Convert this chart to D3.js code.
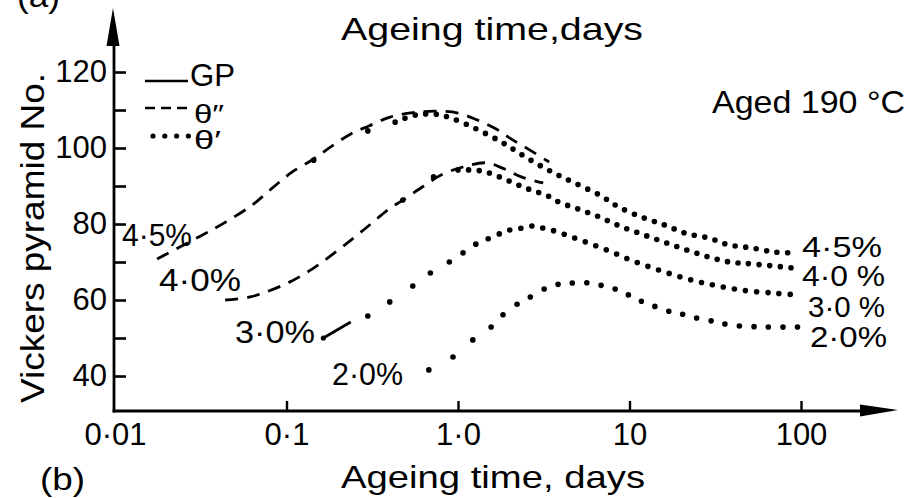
<!DOCTYPE html>
<html><head><meta charset="utf-8">
<script src="https://cdn.jsdelivr.net/npm/d3@7"></script>
<style>
html,body{margin:0;padding:0;background:#fff;overflow:hidden}
svg{display:block;background:#fff}
text{font-family:"Liberation Sans",Arial,sans-serif;fill:#000}
</style>
</head><body>
<svg id="c" width="911" height="498"></svg>
<script>
// ---------- data (ageing time in days, Vickers hardness) ----------
const alloys = ["4·5%", "4·0%", "3·0%", "2·0%"];
const xTicks = [0.01, 0.1, 1, 10, 100];
const xLabels = ["0·01", "0·1", "1·0", "10", "100"];
const yTicks = [40, 50, 60, 70, 80, 90, 100, 110, 120];
const yLabels = ["40", "", "60", "", "80", "", "100", "", "120"];
const legendLabels = ["GP", "θ″", "θ′"];

// theta'' (dashed) segments
const dd45 = [[0.0176,70.8],[0.0314,76.8],[0.0434,80.3],[0.0632,85.0],[0.0828,89.5],[0.108,93.7],[0.144,97.1],[0.181,100.3],[0.237,103.7],[0.302,105.8],[0.406,108.2],[0.546,109.3],[0.743,109.7],[1.0,109.2],[1.29,107.4],[1.67,105.0],[2.04,102.4],[2.57,99.7],[3.40,96.3]];
const dd40 = [[0.0439,60.0],[0.0615,60.8],[0.0986,64.2],[0.135,67.6],[0.183,71.8],[0.246,76.3],[0.310,80.0],[0.395,83.9],[0.477,86.3],[0.632,90.0],[0.796,92.9],[1.07,95.0],[1.46,96.1],[1.86,94.5],[2.34,92.4],[3.14,90.8]];

// GP (solid) segment
const gp30 = [[0.164,50.0],[0.237,54.2]];

// theta' sparse measured dots on the rising side
const pt45 = [[0.144,96.8],[0.298,104.5]];
const pt40 = [[0.477,86.3],[0.72,92.4]];
const pt30 = [[0.298,55.8],[0.40,59.5],[0.545,63.7],[0.69,67.1],[0.89,70.0],[1.07,72.4],[1.27,74.7],[1.50,76.1]];
const pt20 = [[0.676,41.6],[0.935,45.0],[1.22,49.5],[1.56,52.9],[1.83,56.1],[2.21,58.9],[2.64,60.8]];

// theta' (dotted) curves
const dt45 = [[0.43,106.8],[0.57,108.7],[0.74,108.9],[0.91,107.9],[1.24,105.3],[1.71,102.1],[2.13,99.5],[2.77,96.3],[3.64,93.4],[4.78,90.8],[6.71,87.6],[8.64,84.5],[12.1,81.6],[16.1,79.7],[21.1,77.6],[29.0,76.3],[38.0,74.5],[51.6,73.7],[70.5,72.6],[94.8,72.4]];
const dt40 = [[1.0,94.2],[1.23,94.2],[1.46,93.7],[1.74,92.4],[2.04,91.1],[2.40,89.7],[2.77,88.7],[3.27,87.6],[3.86,85.8],[5.05,83.9],[6.71,81.8],[8.73,79.5],[11.7,77.4],[15.8,75.3],[21.5,73.2],[29.0,71.3],[38.3,70.0],[51.6,69.5],[92.3,68.4]];
const dt30 = [[1.74,77.4],[2.0,78.4],[2.34,78.9],[2.75,79.5],[3.14,78.9],[3.64,78.2],[4.6,76.6],[6.0,74.7],[7.9,72.6],[10.2,70.5],[13.7,68.4],[18.2,66.6],[24.1,65.0],[31.1,63.9],[45.0,62.6],[70.5,61.8],[96.4,61.3]];
const dt20 = [[3.18,62.9],[3.90,64.2],[4.71,64.5],[5.76,64.5],[7.05,63.7],[8.63,62.6],[10.4,60.8],[12.4,59.2],[15.0,57.9],[18.3,56.6],[21.2,56.1],[26.0,55.0],[32.7,54.2],[38.5,53.4],[63.2,52.9],[101,52.9]];

// ---------- drawing ----------
const svg = d3.select("#c");
const W = 911, H = 498;
svg.append("rect").attr("width", W).attr("height", H).attr("fill", "#fff");

const x = d3.scaleLog().domain([0.01, 100]).range([115, 801]);
const y = d3.scaleLinear().domain([40, 120]).range([376, 72]);
const axisY = y(30) - 3;
const axisX = x(0.01) - 1;

const line = d3.line().x(d => x(d[0])).y(d => y(d[1])).curve(d3.curveCatmullRom.alpha(0.5));

// Y axis
const gy = svg.append("g").attr("transform", `translate(${axisX},0)`)
  .call(d3.axisLeft(y).tickValues(yTicks).tickSize(-12).tickPadding(7)
    .tickFormat((d, i) => yLabels[i]));
gy.select(".domain").remove();
gy.selectAll(".tick line").attr("stroke", "#000").attr("stroke-width", 2.6);
gy.selectAll(".tick text").attr("font-size", 31).attr("font-family", '"Liberation Sans",Arial,sans-serif').attr("fill", "#000");
svg.append("line").attr("x1", axisX).attr("x2", axisX).attr("y1", axisY + 1.5).attr("y2", 40)
  .attr("stroke", "#000").attr("stroke-width", 2.8);
svg.append("path").attr("d", `M${axisX - 1},8 L${axisX + 5.5},46 L${axisX - 7.5},46 Z`).attr("fill", "#000");

// X axis
const gx = svg.append("g").attr("transform", `translate(0,${axisY})`)
  .call(d3.axisBottom(x).tickValues(xTicks).tickSize(-10).tickPadding(12)
    .tickFormat((d, i) => xLabels[i]));
gx.select(".domain").remove();
gx.selectAll(".tick line").attr("stroke", "#000").attr("stroke-width", 2.4)
  .attr("display", d => d === 0.01 ? "none" : null);
gx.selectAll(".tick text").attr("font-size", 31).attr("font-family", '"Liberation Sans",Arial,sans-serif').attr("fill", "#000");
svg.append("line").attr("x1", axisX - 1.4).attr("x2", 862).attr("y1", axisY).attr("y2", axisY)
  .attr("stroke", "#000").attr("stroke-width", 2.8);
svg.append("path").attr("d", `M898,${axisY - 1} L860,${axisY - 6.5} L860,${axisY + 5.5} Z`).attr("fill", "#000");

// curves
const dashed = [dd45, dd40];
dashed.forEach(d => svg.append("path").attr("d", line(d)).attr("fill", "none")
  .attr("stroke", "#000").attr("stroke-width", 2.8).attr("stroke-dasharray", "13 9"));

svg.append("path").attr("d", line(gp30)).attr("fill", "none").attr("stroke", "#000").attr("stroke-width", 2.8);
svg.append("circle").attr("cx", x(gp30[0][0])).attr("cy", y(gp30[0][1])).attr("r", 2.6).attr("fill", "#000");

const dotted = [[dt45, 10.6], [dt40, 10.6], [dt30, 11.2], [dt20, 14.5]];
dotted.forEach(([d, s]) => svg.append("path").attr("d", line(d)).attr("fill", "none")
  .attr("stroke", "#000").attr("stroke-width", 5.6).attr("stroke-linecap", "round")
  .attr("stroke-dasharray", `0 ${s}`));

[pt45, pt40, pt30, pt20].forEach(d => svg.append("g").selectAll("circle").data(d).join("circle")
  .attr("cx", p => x(p[0])).attr("cy", p => y(p[1])).attr("r", 2.8).attr("fill", "#000"));

// text helper
function txt(s, tx, ty, fs, tl, extra) {
  const t = svg.append("text").attr("x", tx).attr("y", ty).attr("font-size", fs).text(s);
  if (tl) t.attr("textLength", tl).attr("lengthAdjust", "spacingAndGlyphs");
  if (extra) extra(t);
  return t;
}

// titles
txt("Ageing time,days", 341, 40, 32, 302);
txt("Ageing time, days", 341, 488, 32, 304);
txt("(b)", 40, 490, 31, 45);
txt("(a)", 17, 7, 31, 43);
txt("Vickers pyramid No.", 0, 0, 33, 330, t => t.attr("transform", "translate(44,403) rotate(-90)"));
txt("Aged 190 °C", 712, 113, 32, 193);

// legend
svg.append("line").attr("x1", 145).attr("x2", 188).attr("y1", 81).attr("y2", 81).attr("stroke", "#000").attr("stroke-width", 2.6);
svg.append("line").attr("x1", 145).attr("x2", 190).attr("y1", 108).attr("y2", 108).attr("stroke", "#000").attr("stroke-width", 2.4).attr("stroke-dasharray", "10 6");
svg.append("line").attr("x1", 153).attr("x2", 188.5).attr("y1", 136).attr("y2", 136).attr("stroke", "#000").attr("stroke-width", 5.2).attr("stroke-linecap", "round").attr("stroke-dasharray", "0 11.8");
txt(legendLabels[0], 190, 86, 32, 45);
txt(legendLabels[1], 194, 123, 25, 30);
txt(legendLabels[2], 194, 149, 25, 27);

// curve labels (left)
txt(alloys[0], 122, 246, 31, 70);
txt(alloys[1], 159, 291, 31, 82);
txt(alloys[2], 235, 343, 31, 80);
txt(alloys[3], 332, 385, 31, 71);
// curve labels (right)
txt(alloys[0], 802, 257, 29, 80);
txt(alloys[1].replace("%", " %"), 802, 286, 29, 83);
txt(alloys[2].replace("%", " %"), 808, 317, 29, 77);
txt(alloys[3], 810, 347, 29, 77);
</script>
</body></html>
